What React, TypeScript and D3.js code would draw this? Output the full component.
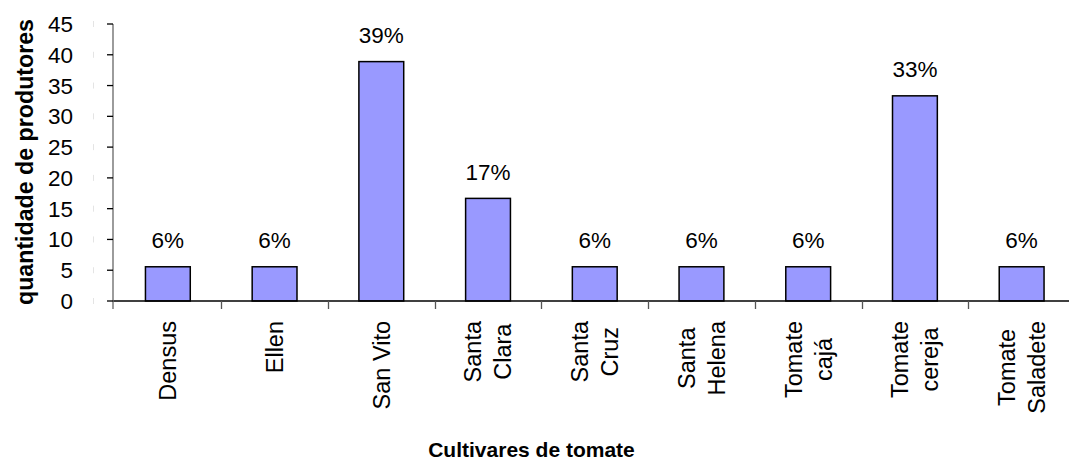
import React, { useEffect, useRef } from "react";
import * as d3 from "d3";

const categories: string[][] = [
  ["Densus"],
  ["Ellen"],
  ["San Vito"],
  ["Santa", "Clara"],
  ["Santa", "Cruz"],
  ["Santa", "Helena"],
  ["Tomate", "cajá"],
  ["Tomate", "cereja"],
  ["Tomate", "Saladete"],
];
const values: number[] = [5.56, 5.56, 38.89, 16.67, 5.56, 5.56, 5.56, 33.33, 5.56];
const yTicks: number[] = [0, 5, 10, 15, 20, 25, 30, 35, 40, 45];
const yTitle = "quantidade de produtores";
const xTitle = "Cultivares de tomate";

const W = 1069;
const H = 459;
const FONT = "'Liberation Sans', Arial, sans-serif";

export default function App() {
  const ref = useRef<SVGSVGElement | null>(null);

  useEffect(() => {
    document.body.style.margin = "0";
    const svg = d3.select(ref.current!);
    svg.selectAll("*").remove();

    const keys = categories.map((c) => c.join(" "));
    const x = d3.scaleBand<string>().domain(keys).range([114.5, 1075]).padding(0);
    const y = d3.scaleLinear().domain([0, 45]).range([301, 24]);
    const barW = x.bandwidth() * 0.42;

    // faint marks
    svg
      .append("g")
      .selectAll("line")
      .data(yTicks)
      .join("line")
      .attr("x1", 93.5)
      .attr("x2", 93.5)
      .attr("y1", (d) => y(d) - 3)
      .attr("y2", (d) => y(d) + 3)
      .attr("stroke", "#e4e4e4")
      .attr("stroke-width", 1);

    // bars
    svg
      .append("g")
      .selectAll("rect")
      .data(values)
      .join("rect")
      .attr("x", (d, i) => x(keys[i])! + x.bandwidth() / 2 - barW / 2)
      .attr("y", (d) => y(d))
      .attr("width", barW)
      .attr("height", (d) => y(0) - y(d))
      .attr("fill", "#9999FF")
      .attr("stroke", "#000")
      .attr("stroke-width", 1.5);

    // x axis line
    svg
      .append("line")
      .attr("x1", 113)
      .attr("x2", W)
      .attr("y1", y(0))
      .attr("y2", y(0))
      .attr("stroke", "#000")
      .attr("stroke-width", 1.3);

    // category ticks
    svg
      .append("g")
      .selectAll("line")
      .data(keys.slice(1))
      .join("line")
      .attr("x1", (d) => Math.round(x(d)!) + 0.5)
      .attr("x2", (d) => Math.round(x(d)!) + 0.5)
      .attr("y1", y(0))
      .attr("y2", y(0) + 8)
      .attr("stroke", "#555")
      .attr("stroke-width", 1.3);

    // y axis
    svg
      .append("line")
      .attr("x1", 113)
      .attr("x2", 113)
      .attr("y1", y(45))
      .attr("y2", y(0) + 8)
      .attr("stroke", "#666")
      .attr("stroke-width", 1.3);
    svg
      .append("g")
      .selectAll("line")
      .data(yTicks)
      .join("line")
      .attr("x1", 107)
      .attr("x2", 113)
      .attr("y1", (d) => y(d))
      .attr("y2", (d) => y(d))
      .attr("stroke", "#000")
      .attr("stroke-width", 1.3);
    svg
      .append("g")
      .selectAll("text")
      .data(yTicks)
      .join("text")
      .attr("x", 73)
      .attr("y", (d) => y(d) + 8)
      .attr("text-anchor", "end")
      .attr("font-family", FONT)
      .attr("font-size", 22.5)
      .attr("fill", "#000")
      .text((d) => String(d));

    // value labels
    svg
      .append("g")
      .selectAll("text")
      .data(values)
      .join("text")
      .attr("x", (d, i) => x(keys[i])! + x.bandwidth() / 2)
      .attr("y", (d) => y(d) - 18.5)
      .attr("text-anchor", "middle")
      .attr("font-family", FONT)
      .attr("font-size", 22.5)
      .attr("fill", "#000")
      .text((d) => Math.round(d) + "%");

    // category labels (rotated, lines centered, block top at fixed y)
    const fs = 23.5;
    const lineGap = 30;
    const top = 321;
    categories.forEach((lines, i) => {
      const cx = x(keys[i])! + x.bandwidth() / 2;
      const g = svg.append("g");
      const texts = lines.map((ln) =>
        g
          .append("text")
          .attr("font-family", FONT)
          .attr("font-size", fs)
          .attr("fill", "#000")
          .attr("text-anchor", "middle")
          .text(ln)
      );
      const lens = texts.map((t) => (t.node() as SVGTextElement).getComputedTextLength());
      const maxLen = Math.max(...lens);
      const centerY = top + maxLen / 2;
      texts.forEach((t, j) => {
        const capCenter = cx + (j - (lines.length - 1) / 2) * lineGap;
        const base = capCenter + 0.358 * fs;
        t.attr("transform", `translate(${base},${centerY}) rotate(-90)`);
      });
    });

    // titles
    svg
      .append("text")
      .attr("transform", `translate(32.5,162) rotate(-90)`)
      .attr("text-anchor", "middle")
      .attr("font-family", FONT)
      .attr("font-weight", "bold")
      .attr("font-size", 23.2)
      .attr("fill", "#000")
      .text(yTitle);
    svg
      .append("text")
      .attr("x", 531.5)
      .attr("y", 456.5)
      .attr("text-anchor", "middle")
      .attr("font-family", FONT)
      .attr("font-weight", "bold")
      .attr("font-size", 21)
      .attr("fill", "#000")
      .text(xTitle);
  }, []);

  return (
    <svg
      ref={ref}
      width={W}
      height={H}
      style={{ display: "block", background: "#fff" }}
      xmlns="http://www.w3.org/2000/svg"
    />
  );
}
